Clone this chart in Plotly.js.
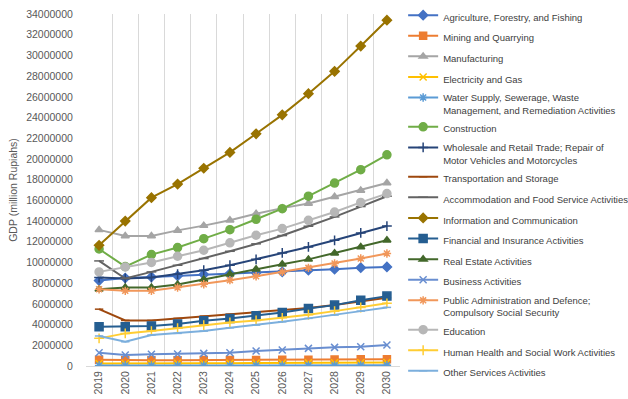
<!DOCTYPE html>
<html>
<head>
<meta charset="utf-8">
<script src="https://cdn.plot.ly/plotly-3.0.1.min.js"></script>
<style>html,body{margin:0;padding:0;background:#fff;}#chart{width:628px;height:399px;}</style>
</head>
<body>
<div id="chart"></div>
<script>
const years = ['2019','2020','2021','2022','2023','2024','2025','2026','2027','2028','2029','2030'];

const agriculture   = [8250000, 8500000, 8600000, 8700000, 8840000, 8930000, 9000000, 9100000, 9250000, 9350000, 9500000, 9570000];
const mining        = [600000, 550000, 550000, 560000, 570000, 580000, 590000, 600000, 610000, 620000, 640000, 660000];
const manufacturing = [13150000, 12550000, 12550000, 13100000, 13560000, 14070000, 14700000, 15250000, 15700000, 16350000, 16960000, 17670000];
const electricity   = [250000, 240000, 250000, 260000, 270000, 270000, 280000, 290000, 300000, 310000, 320000, 330000];
const water         = [50000, 45000, 48000, 50000, 52000, 54000, 56000, 58000, 60000, 62000, 64000, 66000];
const construction  = [11300000, 9600000, 10760000, 11440000, 12300000, 13170000, 14170000, 15200000, 16400000, 17670000, 18960000, 20400000];
const wholesale     = [8550000, 8450000, 8550000, 8870000, 9250000, 9730000, 10300000, 10920000, 11500000, 12140000, 12850000, 13520000];
const transport     = [5490000, 4400000, 4400000, 4600000, 4820000, 5000000, 5150000, 5350000, 5600000, 5900000, 6250000, 6600000];
const accommodation = [10150000, 8450000, 9090000, 9730000, 10380000, 11080000, 11800000, 12600000, 13500000, 14400000, 15400000, 16400000];
const information   = [11660000, 14000000, 16260000, 17570000, 19100000, 20630000, 22430000, 24260000, 26300000, 28460000, 30900000, 33400000];
const financial     = [3790000, 3790000, 3860000, 4050000, 4370000, 4600000, 4850000, 5170000, 5560000, 5880000, 6360000, 6750000];
const realEstate    = [7420000, 7580000, 7580000, 7870000, 8360000, 8870000, 9350000, 9830000, 10300000, 10900000, 11500000, 12140000];
const business      = [1280000, 1060000, 1130000, 1160000, 1220000, 1280000, 1450000, 1540000, 1700000, 1800000, 1860000, 2020000];
const publicAdmin   = [7420000, 7260000, 7260000, 7580000, 7900000, 8290000, 8670000, 9090000, 9480000, 9900000, 10380000, 10860000];
const education     = [9090000, 9570000, 10000000, 10600000, 11180000, 11900000, 12630000, 13270000, 14070000, 14870000, 15800000, 16650000];
const humanHealth   = [2670000, 3150000, 3370000, 3650000, 3950000, 4200000, 4400000, 4650000, 4950000, 5300000, 5650000, 6050000];
const otherServices = [2900000, 2340000, 2990000, 3150000, 3370000, 3690000, 3950000, 4270000, 4600000, 4920000, 5300000, 5660000];

const seriesNames = [
  'Agriculture, Forestry, and Fishing',
  'Mining and Quarrying',
  'Manufacturing',
  'Electricity and Gas',
  'Water Supply, Sewerage, Waste<br>Management, and Remediation Activities',
  'Construction',
  'Wholesale and Retail Trade; Repair of<br>Motor Vehicles and Motorcycles',
  'Transportation and Storage',
  'Accommodation and Food Service Activities',
  'Information and Communication',
  'Financial and Insurance Activities',
  'Real Estate Activities',
  'Business Activities',
  'Public Administration and Defence;<br>Compulsory Social Security',
  'Education',
  'Human Health and Social Work Activities',
  'Other Services Activities'
];
const seriesValues = [agriculture, mining, manufacturing, electricity, water, construction, wholesale,
  transport, accommodation, information, financial, realEstate, business, publicAdmin, education,
  humanHealth, otherServices];

const colors = ['#4472C4','#ED7D31','#A5A5A5','#FFC000','#5B9BD5','#70AD47','#264478','#9E480E','#636363',
  '#997300','#255E91','#43682B','#698ED0','#F1975A','#B7B7B7','#FFCD33','#7CAFDD'];
const symbols = ['diamond','square','triangle-up','x-thin-open','asterisk-open','circle','cross-thin-open','line-ew-open','line-ew-open',
  'diamond','square','triangle-up','x-thin-open','asterisk-open','circle','cross-thin-open','line-ew-open'];
const sizes = [7,7,7,7,7,8,7,6,7, 7,8,7,7,7,8,7,6];

const traces = seriesNames.map((name, i) => ({
  type: 'scatter',
  mode: 'lines+markers',
  name: name,
  x: years,
  y: seriesValues[i],
  legendgroup: 'g' + i,
  line: {color: colors[i], width: 2},
  marker: {symbol: symbols[i], size: sizes[i], color: colors[i], line: {color: colors[i], width: 1.5}}
}));

const layout = {
  width: 628, height: 399,
  margin: {l: 86, r: 228, t: 14, b: 33, autoexpand: false},
  paper_bgcolor: '#fff', plot_bgcolor: '#fff',
  font: {family: 'Liberation Sans, Arial, sans-serif', color: '#595959', size: 10.5},
  showlegend: true,
  legend: {
    x: 1.01, xanchor: 'left', y: 1.0327, yanchor: 'top',
    font: {size: 9.5, color: '#404040'},
    traceorder: 'grouped', tracegroupgap: 1.6, valign: 'top',
    maxheight: 1,
    bgcolor: 'rgba(0,0,0,0)'
  },
  xaxis: {
    type: 'category', tickangle: -90, tickson: 'boundaries',
    showgrid: true, gridcolor: '#D9D9D9', gridwidth: 1,
    showline: true, linecolor: '#D9D9D9', zeroline: false,
    ticks: 'outside', ticklen: 4, tickcolor: 'rgba(0,0,0,0)',
    tickfont: {size: 10.5, color: '#595959'}, range: [-0.5, 11.5]
  },
  yaxis: {
    range: [0, 34000000], dtick: 2000000, tickformat: 'd',
    showgrid: false, zeroline: false, showline: false,
    ticks: 'outside', ticklen: 10, tickcolor: 'rgba(0,0,0,0)',
    tickfont: {size: 10.5, color: '#595959'},
    title: {text: 'GDP (million Rupiahs)', font: {size: 10.5, color: '#595959'}, standoff: 6}
  }
};

Plotly.newPlot('chart', traces, layout, {displayModeBar: false, staticPlot: true});
</script>
</body>
</html>
